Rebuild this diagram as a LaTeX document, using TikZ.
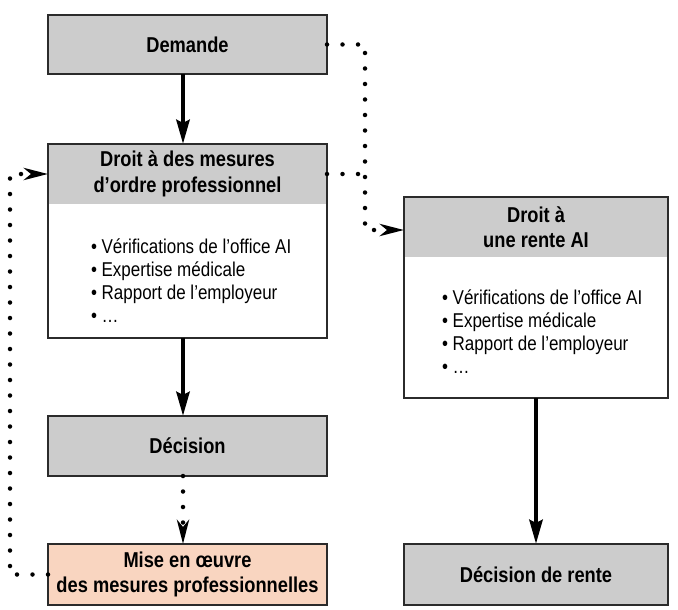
\documentclass[tikz,border=0pt]{standalone}
\usepackage{fontspec}
\setmainfont{Liberation Sans}[FakeStretch=0.85]
\usetikzlibrary{arrows.meta}
\definecolor{boxgray}{HTML}{CCCCCC}
\definecolor{boxpink}{HTML}{F9D5C0}
\definecolor{edgec}{HTML}{2B2B2B}
\newcommand\ttlfnt{\bfseries\fontsize{21.5}{25.5}\selectfont}
\newcommand\lstfnt{\fontsize{20}{22.8}\selectfont}
\begin{document}
\begin{tikzpicture}[x=1pt,y=-1pt,
  every node/.style={inner sep=0pt, outer sep=0pt},
  box/.style={draw=edgec, line width=1.2pt, minimum width=279pt, align=center, font=\ttlfnt},
  hdrbox/.style={box, fill=white, path picture={\fill[boxgray] (path picture bounding box.north west) rectangle ([yshift=-60pt]path picture bounding box.north east);}},
  ttl/.style={align=center, font=\ttlfnt},
  lst/.style={align=left, font=\lstfnt},
  thickarrow/.style={line width=4.5pt, -{Stealth[length=24pt,width=13pt,inset=3pt]}},
  dotline/.style={line width=4.5pt, line cap=round, dash pattern=on 0pt off 15.5pt},
  dotarrow/.style={dotline, -{Stealth[length=24pt,width=12pt,inset=7pt]}}
]
\useasboundingbox (0,0) rectangle (678,610);

% left column
\node[box, fill=boxgray, minimum height=59pt] (dem) at (187.5,44.5) {Demande};
\node[hdrbox, minimum height=194pt] (droit) at (187.5,241) {};
\node[ttl] (droitt) at (187.5,174) {Droit à des mesures\\d’ordre professionnel};
\node[lst, anchor=base west] (droitl) at (91,322) {• Vérifications de l’office AI\\• Expertise médicale\\• Rapport de l’employeur\\• \ldots};
\node[box, fill=boxgray, minimum height=60pt] (dec) at (187.5,446) {Décision};
\node[box, fill=boxpink, minimum height=61pt] (mise) at (187.5,574.5) {Mise en œuvre\\des mesures professionnelles};

% right column
\node[hdrbox, minimum width=264pt, minimum height=201pt] (rente) at (536,297.5) {};
\node[ttl] (rentet) at (536,227) {Droit à\\une rente AI};
\node[lst, anchor=base west] (rentel) at (442,373) {• Vérifications de l’office AI\\• Expertise médicale\\• Rapport de l’employeur\\• \ldots};
\node[box, fill=boxgray, minimum width=264pt, minimum height=61pt] (decr) at (536,574.5) {Décision de rente};

% solid arrows
\draw[thickarrow] ([xshift=-4.5pt]dem.south) -- ([xshift=-4.5pt]droit.north);
\draw[thickarrow] ([xshift=-4.5pt]droit.south) -- ([xshift=-4.5pt]dec.north);
\draw[thickarrow] (rente.south) -- (decr.north);

% dotted connectors
\coordinate (r1) at (365,44.5);
\coordinate (r2) at (365,230);
\coordinate (l1) at (10,574.5);
\coordinate (l2) at (10,174);
\draw[dotarrow] (dem.east) -- (r1) -- (r2) -- (r2 -| rente.west);
\draw[dotline] (droitt -| droit.east) -- (droitt -| r1);
\draw[dotarrow] (mise.west) -- (l1) -- (l2) -- (droitt -| droit.west);
\draw[dotarrow] ([xshift=-4.5pt]dec.south) -- ([xshift=-4.5pt]mise.north);
\end{tikzpicture}
\end{document}
